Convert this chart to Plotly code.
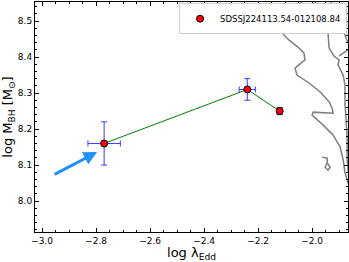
import plotly.graph_objects as go

# ---- data ----
log_edd = [-2.77, -2.24, -2.12]
log_mbh = [8.16, 8.31, 8.25]
edd_err = [0.06, 0.03, 0.01]
mbh_err = [0.06, 0.03, 0.01]
source_name = "SDSSJ224113.54-012108.84"

# arrow (tail -> head) in data coordinates
arrow_tail = (-2.959, 8.072)
arrow_head = (-2.796, 8.136)

# background density contours (data coordinates)
contour_a_x = [-2.033, -2.063, -2.100, -2.111, -2.111, -2.085, -2.048, -2.030, -2.026, -2.037,
               -2.063, -2.056, -2.011, -1.970, -1.937, -1.926, -1.922, -1.996, -2.000,
               -1.959, -1.922, -1.896, -1.885, -1.878, -1.870, -1.863]
contour_a_y = [8.558, 8.536, 8.508, 8.483, 8.467, 8.447, 8.425, 8.411, 8.392, 8.386,
               8.369, 8.350, 8.328, 8.303, 8.276, 8.258, 8.244, 8.247, 8.239,
               8.211, 8.183, 8.150, 8.114, 8.078, 8.058, 8.042]
contour_b_x = [-1.989, -1.981, -1.941, -1.937, -1.919, -1.900, -1.904, -1.885, -1.878,
               -1.878, -1.874, -1.870, -1.870, -1.863]
contour_b_y = [8.558, 8.508, 8.467, 8.425, 8.403, 8.392, 8.378, 8.350, 8.322,
               8.267, 8.225, 8.169, 8.114, 8.058]
contour_c_x = [-1.930, -1.922, -1.885, -1.867]
contour_c_y = [8.558, 8.503, 8.475, 8.439]
contour_d_x = [-1.863, -1.885, -1.900]
contour_d_y = [8.422, 8.411, 8.403]
blob_x = [-1.963, -1.944, -1.944, -1.933, -1.941, -1.952, -1.944]
blob_y = [8.122, 8.119, 8.106, 8.094, 8.086, 8.094, 8.106]

fig = go.Figure()
for cx, cy in [(contour_a_x, contour_a_y), (contour_b_x, contour_b_y),
               (contour_c_x, contour_c_y), (contour_d_x, contour_d_y), (blob_x, blob_y)]:
    fig.add_trace(go.Scatter(x=cx, y=cy, mode="lines", line=dict(color="#7f7f7f", width=1.5),
                             showlegend=False, hoverinfo="skip"))

fig.add_trace(go.Scatter(x=log_edd, y=log_mbh, mode="lines",
                         line=dict(color="green", width=1), showlegend=False))
fig.add_trace(go.Scatter(
    x=log_edd, y=log_mbh, mode="markers", name=source_name,
    marker=dict(color="red", size=7, line=dict(color="black", width=1)),
    error_x=dict(type="data", array=edd_err, color="#3a3aff", thickness=1, width=3),
    error_y=dict(type="data", array=mbh_err, color="#3a3aff", thickness=1, width=3),
))

fig.add_annotation(x=arrow_head[0], y=arrow_head[1], ax=arrow_tail[0], ay=arrow_tail[1],
                   xref="x", yref="y", axref="x", ayref="y", text="", showarrow=True,
                   arrowhead=2, arrowsize=0.9, arrowwidth=3, arrowcolor="#1e90ff")

axis_common = dict(showline=True, linecolor="black", linewidth=1, mirror="allticks",
                   ticks="inside", ticklen=4, tickwidth=1, tickcolor="black",
                   showgrid=False, zeroline=False,
                   tickfont=dict(family="DejaVu Sans", size=9, color="black"))

fig.update_xaxes(range=[-3.026, -1.867], dtick=0.2, tick0=-3.0, tickformat=".1f",
                 minor=dict(dtick=0.05, ticks="inside", ticklen=2, tickcolor="black"),
                 title=dict(text="log λ<sub>Edd</sub>", font=dict(family="DejaVu Sans", size=13, color="black"),
                            standoff=5),
                 **axis_common)
fig.update_yaxes(range=[7.914, 8.553], dtick=0.1, tick0=8.0, tickformat=".1f",
                 minor=dict(dtick=0.02, ticks="inside", ticklen=2, tickcolor="black"),
                 title=dict(text="log M<sub>BH</sub> [M<sub>⊙</sub>]",
                            font=dict(family="DejaVu Sans", size=13, color="black"), standoff=4),
                 **axis_common)

fig.update_layout(
    width=349, height=262,
    margin=dict(l=35, r=1, t=2, b=30),
    plot_bgcolor="white", paper_bgcolor="white",
    legend=dict(x=0.997, y=0.995, xanchor="right", yanchor="top",
                bgcolor="white", bordercolor="#d0d0d0", borderwidth=1,
                font=dict(family="DejaVu Sans", size=8.5, color="black"),
                itemwidth=30, tracegroupgap=0),
)

fig.write_html("out.html", config={"displayModeBar": False},
               post_script="document.body.style.margin='0';document.body.style.padding='0';"
                           "document.body.style.overflow='hidden';")
